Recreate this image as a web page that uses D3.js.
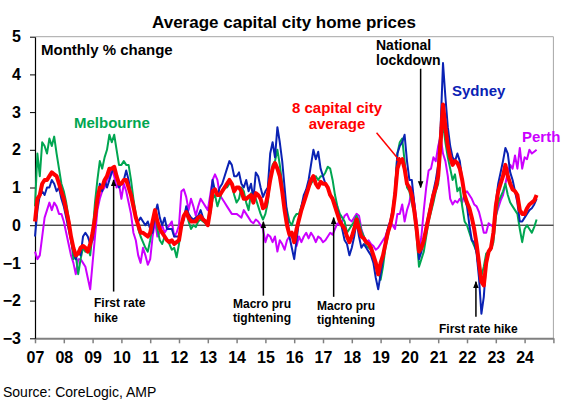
<!DOCTYPE html>
<html>
<head>
<meta charset="utf-8">
<script src="https://cdn.jsdelivr.net/npm/d3@7"></script>
<style>
  body { margin: 0; background: #fff; }
  text { font-family: "Liberation Sans", Arial, sans-serif; }
</style>
</head>
<body>
<svg id="chart" width="578" height="402"></svg>
<script>
// monthly % change, Jan 2007 .. Jun 2024 (one row per year)
const sydney = [
  -0.3, 0.4, 0.8, 0.9, 0.8, 1.0, 1.0, 1.2, 1.1, 0.9, 1.0, 0.7,
  0.5, 0.2, -0.1, -0.4, -0.7, -0.9, -0.7, -0.8, -0.3, -0.2, -0.3, -0.5,
  -0.4, 0.1, 0.6, 1.1, 0.9, 1.2, 1.0, 1.2, 1.4, 1.5, 1.3, 1.0,
  1.1, 1.2, 1.45, 1.2, 0.8, 0.5, 0.2, 0.1, 0.2, 0.1, 0.0, 0.1,
  -0.1, -0.2, 0.3, 0.55, 0.2, 0.0, 0.2, -0.1, -0.1, -0.1, -0.3, -0.3,
  -0.3, 0.0, 0.15, 0.5, 0.3, 0.2, 0.15, 0.2, 0.25, 0.4, 0.2, 0.1,
  0.0, 0.6, 1.2, 0.9, 0.8, 1.0, 1.1, 1.3, 1.5, 1.7, 1.6, 1.3,
  1.3, 1.4, 1.1, 1.0, 1.2, 0.9, 1.1, 0.7, 1.4, 1.3, 1.0, 0.75,
  0.9, 1.0, 1.9, 2.2, 1.8, 2.6, 2.2, 1.7, 1.0, 0.3, -0.3, -0.6,
  -0.9, -0.4, 0.15, 0.5, 0.8, 0.95, 1.2, 1.6, 2.0, 1.75, 1.95, 1.5,
  1.3, 1.1, 1.0, 0.8, 0.7, 0.6, 0.4, 0.2, -0.1, -0.4, -0.5, -0.8,
  -0.6, -0.3, 0.1, -0.3, -0.6, -0.5, -0.6, -0.7, -0.8, -1.0, -1.4, -1.7,
  -1.3, -0.9, -0.4, -0.1, 0.1, 0.4, 0.9, 1.9, 2.1, 2.2, 2.4, 1.7,
  1.2, 1.2, 0.6, -0.1, -0.9, -0.7, -0.4, 0.0, 0.3, 0.6, 0.9, 1.2,
  1.6, 2.6, 4.3, 3.4, 2.6, 2.1, 1.8, 1.7, 1.9, 1.7, 1.2, 0.7,
  0.5, 0.0, -0.4, -0.45, -0.75, -1.4, -2.35, -1.9, -1.0, -0.7, -0.6, -0.1,
  0.6, 1.1, 1.4, 1.7, 2.05, 1.9, 1.4, 1.2, 0.9, 0.6, 0.1, 0.1,
  0.2, 0.3, 0.4, 0.45, 0.55, 0.7
];

const melbourne = [
  0.5, 1.9, 1.3, 2.2, 2.1, 1.9, 2.3, 2.1, 2.35, 1.9, 1.5, 1.1,
  0.9, 0.6, 0.2, -0.3, -0.9, -0.8, -1.3, -0.9, -0.6, -0.7, -0.6, -0.8,
  -0.2, 0.6, 1.2, 1.7, 1.5, 1.8, 2.0, 2.4, 2.2, 2.4, 2.0, 1.6,
  1.6, 1.7, 1.6, 1.6, 1.2, 0.7, 0.3, -0.1, -0.3, -0.45, -0.6, -0.7,
  -0.4, 0.0, 0.4, -0.1, -0.4, -0.5, -0.3, -0.4, -0.5, -0.65, -0.6, -0.85,
  -0.5, 0.0, 0.25, 0.4, 0.1, -0.1, 0.0, -0.05, 0.1, 0.15, 0.1, 0.05,
  0.0, 0.3, 0.7, 0.8, 0.5, 0.7, 0.9, 1.0, 1.0, 1.1, 1.1, 0.8,
  0.6, 0.7, 1.0, 0.9, 0.6, 0.4, 0.85, 0.8, 0.7, 0.5, 0.3, 0.15,
  0.3, 0.6, 1.2, 1.6, 1.7, 2.0, 1.6, 1.1, 0.6, 0.4, 0.1, 0.0,
  0.2, 0.3, 0.3, 0.5, 0.7, 0.9, 1.0, 1.1, 1.2, 1.3, 1.2, 1.3,
  1.3, 1.4, 1.55, 1.5, 1.2, 0.8, 0.5, 0.3, 0.2, 0.1, -0.2, -0.1,
  0.0, 0.1, 0.25, 0.1, -0.15, -0.3, -0.55, -0.6, -0.65, -0.9, -1.0, -1.2,
  -1.45, -1.1, -0.6, -0.3, 0.0, 0.4, 0.9, 1.9, 2.2, 2.3, 1.7, 1.0,
  0.9, 0.6, 0.3, -0.3, -1.1, -0.9, -0.7, -0.3, 0.1, 0.35, 0.6, 0.9,
  1.1, 2.1, 2.7, 2.2, 1.8, 1.5, 1.2, 1.35, 0.9, 1.0, 0.5, 0.1,
  0.0, -0.2, -0.4, -0.55, -0.7, -1.2, -1.35, -1.1, -0.75, -0.7, -0.65, -0.45,
  0.2, 0.6, 0.75, 0.9, 1.1, 0.8, 0.6, 0.5, 0.4, 0.3, -0.1, -0.45,
  -0.1, 0.0, -0.1, -0.2, -0.05, 0.15
];

const perth = [
  -0.7, -0.9, -0.8, -0.3, 0.2, 0.4, 0.6, 0.4, 0.6, 0.5, 0.3, 0.3,
  0.1, -0.2, -0.5, -0.8, -1.0, -1.3, -0.9, -0.9, -1.0, -1.1, -1.4, -1.7,
  -1.0, -0.3, 0.4, 0.7, 0.9, 1.0, 1.2, 1.3, 1.5, 1.3, 1.0, 1.1,
  0.7, 1.1, 0.9, 0.6, 0.3, -0.2, -0.4, -0.8, -1.0, -0.6, -0.8, -1.05,
  -0.9, -0.3, 0.1, -0.3, -0.2, 0.0, -0.2, -0.1, 0.0, 0.1, -0.3, -0.2,
  0.0, 0.9, 0.95, 0.75, 0.4, 0.7, 0.5, 0.25, 0.5, 0.7, 0.6, 0.5,
  0.4, 0.8, 1.2, 1.35, 1.2, 0.8, 0.7, 0.6, 0.5, 0.4, 0.3, 0.3,
  0.3, 0.25, 0.2, 0.4, 0.3, 0.2, 0.1, 0.05, 0.15, 0.1, 0.0, -0.1,
  -0.45, -0.25, -0.3, -0.45, -0.3, -0.7, -0.4, -0.5, -0.65, -0.4, -0.3, -0.2,
  -0.4, -0.55, -0.3, -0.45, -0.3, -0.2, -0.35, -0.2, -0.3, -0.45, -0.3, -0.35,
  -0.45, -0.4, -0.3, -0.2, -0.25, -0.1, 0.05, 0.0, 0.1, 0.25, 0.3, 0.15,
  0.1, 0.2, 0.3, 0.25, -0.1, -0.3, -0.45, -0.4, -0.5, -0.55, -0.65, -0.6,
  -0.5, -0.4, -0.3, -0.1, 0.1, 0.0, -0.1, 0.3, 0.3, 0.55, 0.1, 0.4,
  0.6, 1.0, 0.6, 0.1, -0.7, -0.3, 0.4, 1.0, 1.45, 1.5, 1.8, 1.7,
  2.1, 2.35, 1.9, 1.7, 1.3, 0.7, 0.55, 0.65, 0.6, 0.7, 0.6, 0.85,
  0.9, 0.8, 0.7, 0.55, 0.5, 0.35, 0.1, -0.2, -0.2, 0.05, 0.0, -0.05,
  0.25, 0.45, 0.65, 0.8, 1.1, 1.4, 1.6, 1.5, 1.85, 1.5, 2.05, 1.5,
  1.8, 1.75, 2.0, 1.9, 1.95, 2.0
];

const capitalAverage = [
  0.1, 0.7, 0.8, 1.1, 1.2, 1.2, 1.3, 1.4, 1.35, 1.3, 1.1, 0.9,
  0.7, 0.4, 0.1, -0.3, -0.6, -0.8, -0.75, -0.6, -0.55, -0.6, -0.7, -0.5,
  -0.2, 0.2, 0.7, 1.0, 1.0, 1.2, 1.3, 1.5, 1.5, 1.55, 1.3, 1.1,
  1.1, 1.2, 1.2, 1.0, 0.8, 0.5, 0.2, 0.0, -0.2, -0.2, -0.25, -0.3,
  -0.2, 0.1, 0.4, 0.1, -0.1, -0.2, -0.3, -0.4, -0.45, -0.4, -0.5, -0.45,
  -0.4, 0.0, 0.25, 0.35, 0.2, 0.1, 0.1, 0.1, 0.2, 0.24, 0.15, 0.1,
  0.0, 0.4, 0.9, 0.95, 0.8, 0.8, 0.9, 1.0, 1.1, 1.2, 1.1, 0.9,
  1.0, 1.0, 0.9, 0.7, 0.7, 0.75, 0.8, 0.6, 0.85, 0.8, 0.7, 0.45,
  0.5, 0.8, 1.2, 1.5, 1.65, 1.5, 1.3, 0.9, 0.4, 0.0, -0.25, -0.2,
  -0.45, -0.1, 0.15, 0.4, 0.6, 0.8, 1.0, 1.2, 1.3, 1.1, 1.0, 1.15,
  1.1, 1.1, 1.0, 0.8, 0.7, 0.5, 0.3, 0.1, 0.0, -0.1, -0.3, -0.45,
  -0.3, -0.1, 0.15, -0.1, -0.3, -0.35, -0.45, -0.5, -0.6, -0.8, -1.0, -1.3,
  -1.0, -0.8, -0.5, -0.2, 0.0, 0.3, 0.8, 1.5, 1.7, 1.75, 1.5, 1.1,
  1.0, 0.8, 0.4, -0.1, -0.7, -0.6, -0.4, -0.1, 0.2, 0.5, 0.8, 1.0,
  1.3, 2.2, 3.2, 2.6, 2.1, 1.8, 1.6, 1.7, 1.65, 1.5, 1.2, 0.8,
  0.6, 0.45, 0.2, -0.1, -0.5, -1.0, -1.5, -1.6, -1.0, -0.7, -0.6, -0.2,
  0.5, 0.9, 1.1, 1.3, 1.6, 1.3, 1.1, 0.95, 0.9, 0.8, 0.4, 0.3,
  0.3, 0.45, 0.55, 0.6, 0.65, 0.8
];

const START_YEAR    = 2007;
const YEAR_TICKS    = d3.range(2007, 2026);
const X_TICK_LABELS = ['07', '08', '09', '10', '11', '12', '13', '14', '15',
                       '16', '17', '18', '19', '20', '21', '22', '23', '24'];
const Y_TICKS       = [-3, -2, -1, 0, 1, 2, 3, 4, 5];

const LEFT   = 35;
const RIGHT  = 553.4;
const TOP    = 36.7;
const BOTTOM = 338.3;

const svg = d3.select('#chart');

const x = d3.scaleLinear().domain([2007, 2025]).range([LEFT, RIGHT]);
const y = d3.scaleLinear().domain([-3, 5]).range([BOTTOM, TOP]);

// arrow heads
const defs = svg.append('defs');
[['arrow-black', '#000'], ['arrow-red', '#ff0000']].forEach(([id, colour]) => {
    defs.append('marker')
        .attr('id', id)
        .attr('viewBox', '0 0 10 10')
        .attr('refX', 9)
        .attr('refY', 5)
        .attr('markerUnits', 'userSpaceOnUse')
        .attr('markerWidth', 7)
        .attr('markerHeight', 7)
        .attr('orient', 'auto')
        .append('path')
        .attr('d', 'M0,1 L10,5 L0,9 Z')
        .attr('fill', colour);
});

// title
svg.append('text')
    .attr('x', 284)
    .attr('y', 27.5)
    .attr('text-anchor', 'middle')
    .attr('font-size', 17)
    .attr('font-weight', 'bold')
    .text('Average capital city home prices');

// plot frame (top and right)
svg.append('path')
    .attr('d', `M${LEFT},${TOP} H${RIGHT} V${BOTTOM}`)
    .attr('fill', 'none')
    .attr('stroke', '#a6a6a6')
    .attr('stroke-width', 1);

// x axis
const xAxis = svg.append('g')
    .attr('transform', `translate(0,${BOTTOM})`)
    .call(d3.axisBottom(x)
        .tickValues(YEAR_TICKS)
        .tickFormat(d => X_TICK_LABELS[d - START_YEAR] || '')
        .tickSize(5)
        .tickSizeOuter(0)
        .tickPadding(8));
xAxis.select('.domain').attr('stroke', '#808080').attr('stroke-width', 2);
xAxis.selectAll('.tick line').attr('stroke', '#808080').attr('stroke-width', 1.5);
xAxis.selectAll('.tick text')
    .attr('font-size', 16)
    .attr('font-weight', 'bold')
    .attr('fill', '#000')
    .style('font-family', '"Liberation Sans", Arial, sans-serif');

// y axis
const yAxis = svg.append('g')
    .attr('transform', `translate(${LEFT},0)`)
    .call(d3.axisLeft(y)
        .tickValues(Y_TICKS)
        .tickFormat(d3.format('d'))
        .tickSize(5)
        .tickSizeOuter(0)
        .tickPadding(9));
yAxis.select('.domain').attr('stroke', '#000').attr('stroke-width', 1.2);
yAxis.selectAll('.tick line').attr('stroke', '#000');
yAxis.selectAll('.tick text')
    .attr('font-size', 16)
    .attr('font-weight', 'bold')
    .attr('fill', '#000')
    .style('font-family', '"Liberation Sans", Arial, sans-serif');

// zero line
svg.append('line')
    .attr('x1', LEFT)
    .attr('x2', RIGHT)
    .attr('y1', y(0))
    .attr('y2', y(0))
    .attr('stroke', '#000')
    .attr('stroke-width', 1);

// series
const monthTime = i => START_YEAR + i / 12;
const line = d3.line()
    .x((d, i) => x(monthTime(i)))
    .y(d => y(d));

const series = [
    { values: perth,          colour: '#cc00ff', width: 2 },
    { values: melbourne,      colour: '#00a651', width: 2 },
    { values: sydney,         colour: '#0a22b4', width: 2 },
    { values: capitalAverage, colour: '#ff0000', width: 4 }
];

svg.append('g')
    .selectAll('path')
    .data(series)
    .join('path')
    .attr('d', d => line(d.values))
    .attr('fill', 'none')
    .attr('stroke', d => d.colour)
    .attr('stroke-width', d => d.width)
    .attr('stroke-linejoin', 'round');

// labels
const labels = [
    { text: 'Monthly % change', x: 41,  y: 55,    colour: '#000',    size: 15 },
    { text: 'Melbourne',        x: 74,  y: 127.5, colour: '#00a651', size: 15 },
    { text: 'Sydney',           x: 452, y: 96,    colour: '#0a22b4', size: 15 },
    { text: 'Perth',            x: 522, y: 141.5, colour: '#cc00ff', size: 15 },
    { text: '8 capital city',   x: 337, y: 113,   colour: '#ff0000', size: 15, anchor: 'middle' },
    { text: 'average',          x: 337, y: 128.5, colour: '#ff0000', size: 15, anchor: 'middle' },
    { text: 'National',         x: 376, y: 50,    colour: '#000',    size: 14 },
    { text: 'lockdown',         x: 376, y: 65,    colour: '#000',    size: 14 },
    { text: 'First rate',       x: 94,  y: 307,   colour: '#000',    size: 12 },
    { text: 'hike',             x: 94,  y: 321.5, colour: '#000',    size: 12 },
    { text: 'Macro pru',        x: 233, y: 308,   colour: '#000',    size: 12 },
    { text: 'tightening',       x: 233, y: 322,   colour: '#000',    size: 12 },
    { text: 'Macro pru',        x: 317, y: 309.5, colour: '#000',    size: 12 },
    { text: 'tightening',       x: 317, y: 323.5, colour: '#000',    size: 12 },
    { text: 'First rate hike',  x: 439, y: 333,   colour: '#000',    size: 12 }
];

svg.append('g')
    .selectAll('text')
    .data(labels)
    .join('text')
    .attr('x', d => d.x)
    .attr('y', d => d.y)
    .attr('text-anchor', d => d.anchor || 'start')
    .attr('font-size', d => d.size)
    .attr('font-weight', 'bold')
    .attr('fill', d => d.colour)
    .text(d => d.text);

// annotation arrows, in data coordinates (year, % change)
const arrows = [
    { from: [2009.73, -1.76], to: [2009.73, 1.2],   marker: 'arrow-black', colour: '#000' },
    { from: [2014.93, -1.87], to: [2014.93, 0.09],  marker: 'arrow-black', colour: '#000' },
    { from: [2017.37, -1.9],  to: [2017.37, 0.2],   marker: 'arrow-black', colour: '#000' },
    { from: [2020.39, 4.15],  to: [2020.39, 1.0],   marker: 'arrow-black', colour: '#000' },
    { from: [2022.31, -2.43], to: [2022.31, -1.5],  marker: 'arrow-black', colour: '#000' },
    { from: [2018.86, 2.45],  to: [2019.73, 1.65],  marker: 'arrow-red',   colour: '#ff0000' }
];

svg.append('g')
    .selectAll('line')
    .data(arrows)
    .join('line')
    .attr('x1', d => x(d.from[0]))
    .attr('y1', d => y(d.from[1]))
    .attr('x2', d => x(d.to[0]))
    .attr('y2', d => y(d.to[1]))
    .attr('stroke', d => d.colour)
    .attr('stroke-width', 1.5)
    .attr('marker-end', d => `url(#${d.marker})`);

// source
svg.append('text')
    .attr('x', 3)
    .attr('y', 397)
    .attr('font-size', 14)
    .text('Source: CoreLogic, AMP');
</script>
</body>
</html>
